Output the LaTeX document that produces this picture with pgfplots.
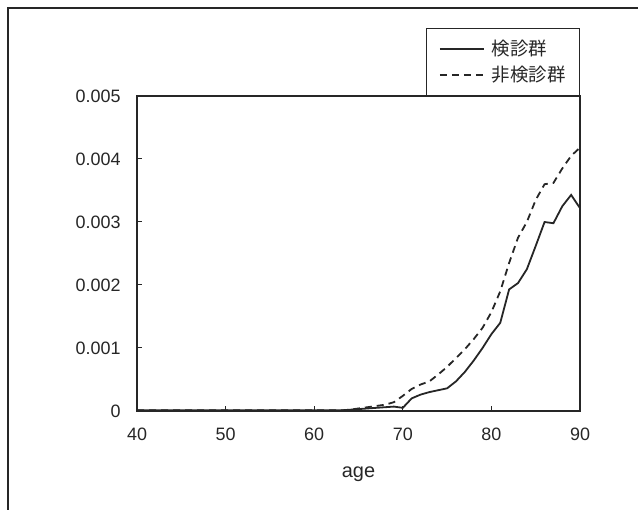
\documentclass[border=0pt]{standalone}
\usepackage{fontspec}
\setmainfont{Liberation Sans}
\newfontfamily\cjk{Noto Sans CJK JP}
\usepackage{pgfplots}
\usepackage{pgfplotstable}
\pgfplotsset{compat=1.18}
\pgfplotstableread{
age kenshin hikenshin
40 0.00001 0.00001
42 0.00001 0.00001
44 0.00001 0.00001
46 0.00001 0.00001
48 0.00001 0.00001
50 0.00001 0.00001
52 0.00001 0.00001
54 0.00001 0.00001
56 0.00001 0.00001
58 0.00001 0.00001
60 0.00001 0.00001
62 0.00001 0.00001
63 0.00001 0.00001
64 0.00002 0.00002
65 0.00003 0.00004
66 0.00004 0.00006
67 0.00005 0.00008
68 0.00006 0.00010
69 0.00007 0.00014
70 0.00005 0.00024
71 0.00020 0.00035
72 0.00026 0.00042
73 0.00030 0.00047
74 0.00033 0.00058
75 0.00036 0.00070
76 0.00047 0.00084
77 0.00062 0.00098
78 0.00080 0.00114
79 0.00100 0.00132
80 0.00122 0.00157
81 0.00140 0.00190
82 0.00193 0.00235
83 0.00203 0.00275
84 0.00225 0.00300
85 0.00262 0.00335
86 0.00300 0.00360
87 0.00298 0.00362
88 0.00325 0.00385
89 0.00343 0.00405
90 0.00322 0.00418
}\datatable
\begin{document}
\begin{tikzpicture}[x=1bp,y=1bp]
\path[use as bounding box] (0,0) rectangle (638,510);
\draw[line width=1.3bp, black!85] (8,0) -- (8,502) -- (638,502);
\begin{axis}[
  at={(137bp,99bp)}, anchor=south west,
  scale only axis, width=443bp, height=315bp,
  xmin=40, xmax=90, ymin=0, ymax=0.005,
  scaled y ticks=false,
  xtick={40,50,60,70,80,90},
  xticklabels={40,50,60,70,80,90},
  ytick={0,0.001,0.002,0.003,0.004,0.005},
  yticklabels={0,0.001,0.002,0.003,0.004,0.005},
  tick align=inside, xtick pos=bottom, ytick pos=left,
  major tick length=5bp,
  axis line style={line width=1.3bp, black!85},
  every tick/.style={line width=1bp, black!85},
  tick label style={font=\fontsize{18}{20}\selectfont, text=black!85},
  xticklabel style={yshift=-13bp},
  yticklabel style={xshift=-13bp},
  xlabel={age},
  xlabel style={font=\fontsize{20}{22}\selectfont, text=black!85, yshift=-20bp},
  /pgf/number format/assume math mode=true,
  legend style={at={(1,1)}, anchor=south east, draw=black!85, line width=1.1bp,
    font=\cjk\fontsize{18.5}{22}\selectfont, text=black!85,
    inner xsep=12bp, inner ysep=10bp, row sep=5bp, column sep=5bp},
  legend cell align=left,
  legend image code/.code={\draw[#1] (0bp,0bp) -- (44bp,0bp);},
]
\addplot[black!85, line width=1.8bp] table[x=age, y=kenshin] {\datatable};
\addlegendentry{検診群}
\addplot[black!85, line width=1.8bp, dash pattern=on 7bp off 5bp] table[x=age, y=hikenshin] {\datatable};
\addlegendentry{非検診群}
\end{axis}
\end{tikzpicture}
\end{document}
